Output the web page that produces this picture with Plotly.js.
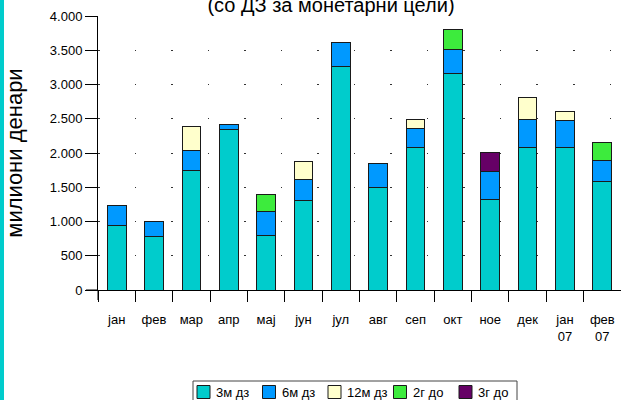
<!DOCTYPE html>
<html>
<head>
<meta charset="utf-8">
<script src="https://cdn.plot.ly/plotly-3.0.1.min.js"></script>
<style>html,body{margin:0;padding:0;background:#fff;}#chart{width:621px;height:400px;}</style>
</head>
<body>
<div id="chart"></div>
<script>
var categories = ["јан", "фев", "мар", "апр", "мај", "јун", "јул", "авг", "сеп", "окт", "ное", "дек", "јан<br>07", "фев<br>07"];
var seriesNames = ["3м дз", "6м дз", "12м дз", "2г до", "3г до"];
var m3  = [940, 775, 1740, 2340, 795, 1310, 3260, 1495, 2075, 3165, 1325, 2085, 2085, 1590];
var m6  = [300, 225, 295, 70, 345, 300, 350, 345, 285, 345, 400, 400, 395, 300];
var m12 = [null, null, 355, null, null, 265, null, null, 130, null, null, 320, 130, null];
var y2  = [null, null, null, null, 260, null, null, null, null, 295, null, null, null, 260];
var y3  = [null, null, null, null, null, null, null, null, null, null, 285, null, null, null];
var colors = ["#00CCCC", "#0099FF", "#FFFFCC", "#3DEB3D", "#660066"];
var yTicks = [0, 500, 1000, 1500, 2000, 2500, 3000, 3500, 4000];

var allSeries = [m3, m6, m12, y2, y3];
var traces = allSeries.map(function (vals, i) {
  return {
    type: "bar",
    name: seriesNames[i],
    x: categories,
    y: vals,
    showlegend: false,
    marker: {color: colors[i], line: {color: "#1a1a1a", width: 1}},
    hoverinfo: "y+name"
  };
});

var F = "Liberation Sans, Arial, sans-serif";
var L = 98, W = 621, R = 0, T = 16, B = 110, H = 400;
var pw = W - L - R, ph = H - T - B;
function px(x) { return (x - L) / pw; }
function py(y) { return (H - B - y) / ph; }

var shapes = [
  {type: "rect", xref: "paper", yref: "paper", x0: px(0), x1: px(4), y0: py(410), y1: py(-10),
   fillcolor: "#00CCCC", line: {width: 0}, layer: "above"},
  {type: "line", xref: "paper", yref: "paper", x0: 0, x1: 0, y0: 0, y1: py(300),
   line: {color: "#000", width: 1}},
  {type: "line", xref: "paper", yref: "paper", x0: px(86), x1: 0, y0: 0, y1: 0,
   line: {color: "#000", width: 1}},
  // legend frame
  {type: "rect", xref: "paper", yref: "paper", x0: px(193), x1: px(517), y0: py(405), y1: py(381),
   fillcolor: "#fff", line: {color: "#444", width: 1}}
];
var annotations = [];
var legStart = 197, legStep = 65.5, symSize = 13, legMid = 392;
seriesNames.forEach(function (name, i) {
  var x0 = legStart + i * legStep;
  shapes.push({type: "rect", xref: "paper", yref: "paper",
    x0: px(x0), x1: px(x0 + symSize), y0: py(legMid + symSize / 2), y1: py(legMid - symSize / 2),
    fillcolor: colors[i], line: {color: "#1a1a1a", width: 1}});
  annotations.push({xref: "paper", yref: "paper", x: px(x0 + symSize + 4), y: py(legMid),
    xanchor: "left", yanchor: "middle", showarrow: false, text: name,
    font: {family: F, size: 13, color: "#000"}});
});

var layout = {
  width: W, height: H,
  margin: {l: L, r: R, t: T, b: B, pad: 0, autoexpand: false},
  paper_bgcolor: "#fff", plot_bgcolor: "#fff",
  barmode: "stack",
  bargap: 0.5,
  separators: ",.",
  font: {family: F, color: "#000", size: 13},
  title: {
    text: "(со ДЗ за монетарни цели)",
    font: {family: F, size: 20, color: "#000"},
    x: 331 / 621, xref: "container", xanchor: "center",
    y: 0.9875, yref: "container", yanchor: "middle"
  },
  xaxis: {
    type: "category",
    automargin: false,
    tickson: "boundaries",
    ticks: "outside", ticklen: 11, tickcolor: "#000", tickwidth: 1,
    showline: true, linecolor: "#000", linewidth: 1,
    showgrid: false, zeroline: false,
    tickfont: {family: F, size: 13, color: "#000"},
    ticklabelstandoff: 17,
    fixedrange: true
  },
  yaxis: {
    automargin: false,
    range: [0, 4000],
    tickvals: yTicks,
    tickformat: ",.0f",
    ticks: "outside", ticklen: 12, tickcolor: "#000", tickwidth: 1,
    showline: true, linecolor: "#000", linewidth: 1,
    showgrid: true, gridcolor: "#333", gridwidth: 1, griddash: "1.5px,35.04px",
    zeroline: false,
    tickfont: {family: F, size: 13, color: "#000"},
    title: {text: "милиони денари", font: {family: F, size: 22, color: "#000"}, standoff: 21},
    fixedrange: true
  },
  showlegend: false,
  shapes: shapes,
  annotations: annotations
};

Plotly.newPlot("chart", traces, layout, {displayModeBar: false, staticPlot: true});
</script>
</body>
</html>
